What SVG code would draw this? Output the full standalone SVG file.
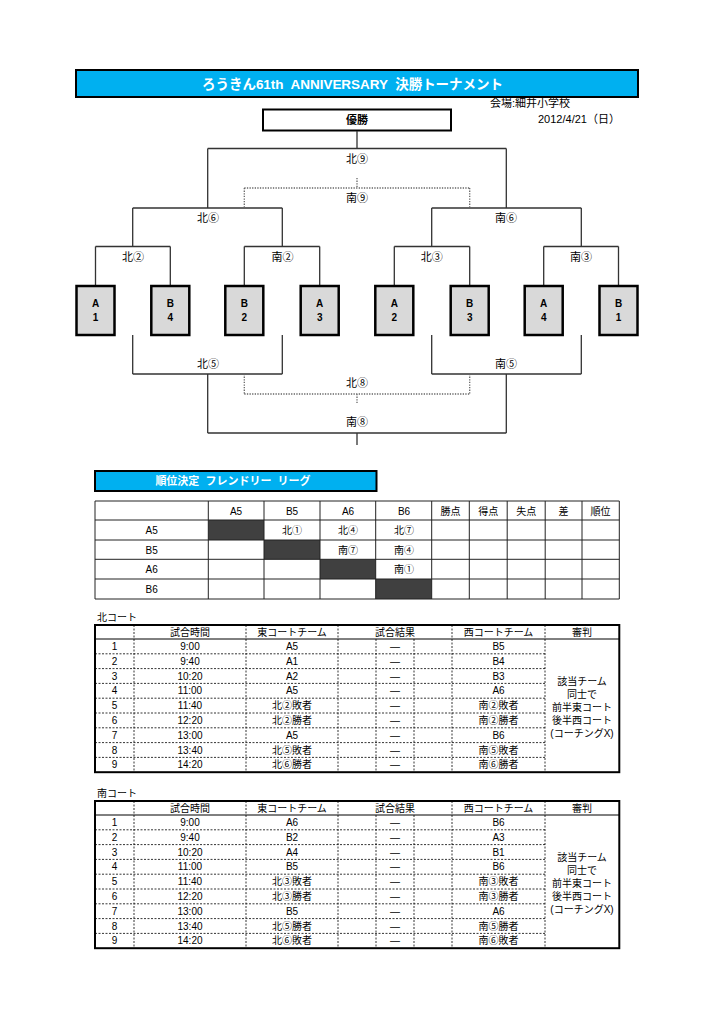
<svg xmlns="http://www.w3.org/2000/svg" width="724" height="1024" viewBox="0 0 724 1024">
<style>
text{font-family:"Liberation Sans","Noto Sans CJK JP",sans-serif;fill:#000;}
text.c{font-family:"Noto Sans CJK JP",sans-serif;}
.t{font-size:11px;text-anchor:middle;}
.s{font-size:10px;text-anchor:middle;}
.b{font-weight:bold;}
.w{fill:#fff;font-weight:bold;}
.ln{stroke:#333;stroke-width:1.3;fill:none;}
.dt{stroke:#666;stroke-width:1.3;stroke-dasharray:1.3,1.3;fill:none;}
.box{fill:#d9d9d9;stroke:#000;stroke-width:2.5;}
.bar{fill:#00b0f0;stroke:#000;stroke-width:2;}
.g{stroke:#222;stroke-width:1;fill:none;}
.dk{fill:#404040;}
.ds{stroke:#000;stroke-width:0.8;stroke-dasharray:2,1.5;fill:none;}
.ol{stroke:#000;stroke-width:2;fill:none;}
</style>

<g id="title">
<rect class="bar" x="76" y="70" width="562" height="27"/>
<text class="w" x="202" y="88.5" font-size="13.5" textLength="301" lengthAdjust="spacing" xml:space="preserve">ろうきん61th  ANNIVERSARY  決勝トーナメント</text>
</g>
<g id="venue">
<text x="490" y="107" font-size="11">会場:細井小学校</text>
<text x="538" y="123" font-size="11">2012/4/21（日）</text>
</g>
<g id="winner">
<rect x="263" y="109.5" width="188" height="21" fill="#fff" stroke="#000" stroke-width="2"/>
<text class="t b" x="357" y="124">優勝</text>
</g>

<g id="connectors">
<path class="ln" d="M357 131V148.5M207.7 148.5H506.3M207.7 148.5V208M506.3 148.5V208"/>
<path class="ln" d="M132.7 208H282.3M431.7 208H581.3M132.7 208V246.5M282.3 208V246.5M431.7 208V246.5M581.3 208V246.5"/>
<path class="ln" d="M95.5 246.5H170.3M244.3 246.5H319.7M394.3 246.5H469.7M543.7 246.5H618.5"/>
<path class="ln" d="M95.5 246.5V286M170.3 246.5V286M244.3 246.5V286M319.7 246.5V286M394.3 246.5V286M469.7 246.5V286M543.7 246.5V286M618.5 246.5V286"/>
<path class="dt" d="M357 178V188M244.3 188H469.7M244.3 188V208M469.7 188V208"/>
<path class="ln" d="M132.7 335V374M282.3 335V374M431.7 335V374M581.3 335V374M132.7 374H282.3M431.7 374H581.3"/>
<path class="ln" d="M207.7 374V433M506.3 374V433M207.7 433H506.3M357 433V445"/>
<path class="dt" d="M244.3 374V394M469.7 374V394M244.3 394H469.7M357 394V404"/>
</g>

<g id="bracket-labels">
<text class="t c" x="357" y="163">北⑨</text>
<text class="t c" x="357" y="202">南⑨</text>
<text class="t c" x="208" y="222">北⑥</text>
<text class="t c" x="506" y="222">南⑥</text>
<text class="t c" x="133" y="260.5">北②</text>
<text class="t c" x="282.5" y="260.5">南②</text>
<text class="t c" x="431.7" y="260.5">北③</text>
<text class="t c" x="581" y="260.5">南③</text>
<text class="t c" x="208" y="368">北⑤</text>
<text class="t c" x="506" y="368">南⑤</text>
<text class="t c" x="357" y="387">北⑧</text>
<text class="t c" x="357" y="426">南⑧</text>
</g>

<g id="team-A1"><rect class="box" x="76.5" y="286" width="38" height="49"/><text class="s b" x="95.5" y="307">A</text><text class="s b" x="95.5" y="320.5">1</text></g>
<g id="team-B4"><rect class="box" x="151.3" y="286" width="38" height="49"/><text class="s b" x="170.3" y="307">B</text><text class="s b" x="170.3" y="320.5">4</text></g>
<g id="team-B2"><rect class="box" x="225.3" y="286" width="38" height="49"/><text class="s b" x="244.3" y="307">B</text><text class="s b" x="244.3" y="320.5">2</text></g>
<g id="team-A3"><rect class="box" x="300.7" y="286" width="38" height="49"/><text class="s b" x="319.7" y="307">A</text><text class="s b" x="319.7" y="320.5">3</text></g>
<g id="team-A2"><rect class="box" x="375.3" y="286" width="38" height="49"/><text class="s b" x="394.3" y="307">A</text><text class="s b" x="394.3" y="320.5">2</text></g>
<g id="team-B3"><rect class="box" x="450.7" y="286" width="38" height="49"/><text class="s b" x="469.7" y="307">B</text><text class="s b" x="469.7" y="320.5">3</text></g>
<g id="team-A4"><rect class="box" x="524.7" y="286" width="38" height="49"/><text class="s b" x="543.7" y="307">A</text><text class="s b" x="543.7" y="320.5">4</text></g>
<g id="team-B1"><rect class="box" x="599.5" y="286" width="38" height="49"/><text class="s b" x="618.5" y="307">B</text><text class="s b" x="618.5" y="320.5">1</text></g>

<g id="league-title">
<rect class="bar" x="95" y="471" width="281.5" height="20"/>
<text class="t w" x="233" y="485" xml:space="preserve">順位決定  フレンドリー  リーグ</text>
</g>

<g id="league-table">
<rect class="dk" x="208.3" y="520" width="55.7" height="20"/>
<rect class="dk" x="264" y="540" width="56" height="19.3"/>
<rect class="dk" x="320" y="559.3" width="55.7" height="19.7"/>
<rect class="dk" x="375.7" y="579" width="56" height="20"/>
<path class="g" d="M95 501H619.3V599H95ZM95 520H619.3M95 540H619.3M95 559.3H619.3M95 579H619.3M208.3 501V599M264 501V599M320 501V599M375.7 501V599M431.7 501V599M469.3 501V599M507.2 501V599M545.2 501V599M582 501V599"/>
<text class="s" x="236" y="514.5">A5</text>
<text class="s" x="292" y="514.5">B5</text>
<text class="s" x="348" y="514.5">A6</text>
<text class="s" x="404" y="514.5">B6</text>
<text class="s" x="450.5" y="514.5">勝点</text>
<text class="s" x="488.3" y="514.5">得点</text>
<text class="s" x="526.2" y="514.5">失点</text>
<text class="s" x="563.6" y="514.5">差</text>
<text class="s" x="600.6" y="514.5">順位</text>
<text class="s" x="151.6" y="534">A5</text>
<text class="s" x="151.6" y="553.5">B5</text>
<text class="s" x="151.6" y="573">A6</text>
<text class="s" x="151.6" y="592.8">B6</text>
<text class="s c" x="292" y="534">北①</text>
<text class="s c" x="348" y="534">北④</text>
<text class="s c" x="404" y="534">北⑦</text>
<text class="s c" x="348" y="553.5">南⑦</text>
<text class="s c" x="404" y="553.5">南④</text>
<text class="s c" x="404" y="573">南①</text>
</g>

<g id="north-court">
<text x="97" y="621" font-size="10">北コート</text>
<path class="ds" d="M95 653.8H545M95 668.6H545M95 683.4H545M95 698.2H545M95 713H545M95 727.8H545M95 742.6H545M95 757.4H545"/>
<path class="ds" d="M134 625V772.2M246 625V772.2M338 625V772.2M452 625V772.2M545 625V772.2M376 639V772.2M414 639V772.2"/>
<path d="M95 639H619.3" stroke="#000" stroke-width="1"/>
<rect class="ol" x="95" y="625" width="524.3" height="147.2"/>
<text class="s" x="190" y="635.6">試合時間</text>
<text class="s" x="292" y="635.6">東コートチーム</text>
<text class="s" x="395" y="635.6">試合結果</text>
<text class="s" x="498.5" y="635.6">西コートチーム</text>
<text class="s" x="582" y="635.6">審判</text>
<text class="s" x="114.5" y="650">1</text><text class="s" x="190" y="650">9:00</text><text class="s" x="292" y="650">A5</text><text class="s" x="395" y="650">—</text><text class="s" x="498.5" y="650">B5</text>
<text class="s" x="114.5" y="664.8">2</text><text class="s" x="190" y="664.8">9:40</text><text class="s" x="292" y="664.8">A1</text><text class="s" x="395" y="664.8">—</text><text class="s" x="498.5" y="664.8">B4</text>
<text class="s" x="114.5" y="679.6">3</text><text class="s" x="190" y="679.6">10:20</text><text class="s" x="292" y="679.6">A2</text><text class="s" x="395" y="679.6">—</text><text class="s" x="498.5" y="679.6">B3</text>
<text class="s" x="114.5" y="694.4">4</text><text class="s" x="190" y="694.4">11:00</text><text class="s" x="292" y="694.4">A5</text><text class="s" x="395" y="694.4">—</text><text class="s" x="498.5" y="694.4">A6</text>
<text class="s" x="114.5" y="709.2">5</text><text class="s" x="190" y="709.2">11:40</text><text class="s c" x="292" y="709.2">北②敗者</text><text class="s" x="395" y="709.2">—</text><text class="s c" x="498.5" y="709.2">南②敗者</text>
<text class="s" x="114.5" y="724">6</text><text class="s" x="190" y="724">12:20</text><text class="s c" x="292" y="724">北②勝者</text><text class="s" x="395" y="724">—</text><text class="s c" x="498.5" y="724">南②勝者</text>
<text class="s" x="114.5" y="738.8">7</text><text class="s" x="190" y="738.8">13:00</text><text class="s" x="292" y="738.8">A5</text><text class="s" x="395" y="738.8">—</text><text class="s" x="498.5" y="738.8">B6</text>
<text class="s" x="114.5" y="753.6">8</text><text class="s" x="190" y="753.6">13:40</text><text class="s c" x="292" y="753.6">北⑤敗者</text><text class="s" x="395" y="753.6">—</text><text class="s c" x="498.5" y="753.6">南⑤敗者</text>
<text class="s" x="114.5" y="768.4">9</text><text class="s" x="190" y="768.4">14:20</text><text class="s c" x="292" y="768.4">北⑥勝者</text><text class="s" x="395" y="768.4">—</text><text class="s c" x="498.5" y="768.4">南⑥勝者</text>
<text class="s" x="582" y="684.6">該当チーム</text>
<text class="s" x="582" y="697.6">同士で</text>
<text class="s" x="582" y="710.6">前半東コート</text>
<text class="s" x="582" y="723.6">後半西コート</text>
<text class="s" x="582" y="736.6">(コーチングX)</text>
</g>

<g id="south-court">
<text x="97" y="797" font-size="10">南コート</text>
<path class="ds" d="M95 829.8H545M95 844.6H545M95 859.4H545M95 874.2H545M95 889H545M95 903.8H545M95 918.6H545M95 933.4H545"/>
<path class="ds" d="M134 801V948.2M246 801V948.2M338 801V948.2M452 801V948.2M545 801V948.2M376 815V948.2M414 815V948.2"/>
<path d="M95 815H619.3" stroke="#000" stroke-width="1"/>
<rect class="ol" x="95" y="801" width="524.3" height="147.2"/>
<text class="s" x="190" y="811.6">試合時間</text>
<text class="s" x="292" y="811.6">東コートチーム</text>
<text class="s" x="395" y="811.6">試合結果</text>
<text class="s" x="498.5" y="811.6">西コートチーム</text>
<text class="s" x="582" y="811.6">審判</text>
<text class="s" x="114.5" y="826">1</text><text class="s" x="190" y="826">9:00</text><text class="s" x="292" y="826">A6</text><text class="s" x="395" y="826">—</text><text class="s" x="498.5" y="826">B6</text>
<text class="s" x="114.5" y="840.8">2</text><text class="s" x="190" y="840.8">9:40</text><text class="s" x="292" y="840.8">B2</text><text class="s" x="395" y="840.8">—</text><text class="s" x="498.5" y="840.8">A3</text>
<text class="s" x="114.5" y="855.6">3</text><text class="s" x="190" y="855.6">10:20</text><text class="s" x="292" y="855.6">A4</text><text class="s" x="395" y="855.6">—</text><text class="s" x="498.5" y="855.6">B1</text>
<text class="s" x="114.5" y="870.4">4</text><text class="s" x="190" y="870.4">11:00</text><text class="s" x="292" y="870.4">B5</text><text class="s" x="395" y="870.4">—</text><text class="s" x="498.5" y="870.4">B6</text>
<text class="s" x="114.5" y="885.2">5</text><text class="s" x="190" y="885.2">11:40</text><text class="s c" x="292" y="885.2">北③敗者</text><text class="s" x="395" y="885.2">—</text><text class="s c" x="498.5" y="885.2">南③敗者</text>
<text class="s" x="114.5" y="900">6</text><text class="s" x="190" y="900">12:20</text><text class="s c" x="292" y="900">北③勝者</text><text class="s" x="395" y="900">—</text><text class="s c" x="498.5" y="900">南③勝者</text>
<text class="s" x="114.5" y="914.8">7</text><text class="s" x="190" y="914.8">13:00</text><text class="s" x="292" y="914.8">B5</text><text class="s" x="395" y="914.8">—</text><text class="s" x="498.5" y="914.8">A6</text>
<text class="s" x="114.5" y="929.6">8</text><text class="s" x="190" y="929.6">13:40</text><text class="s c" x="292" y="929.6">北⑤勝者</text><text class="s" x="395" y="929.6">—</text><text class="s c" x="498.5" y="929.6">南⑤勝者</text>
<text class="s" x="114.5" y="944.4">9</text><text class="s" x="190" y="944.4">14:20</text><text class="s c" x="292" y="944.4">北⑥敗者</text><text class="s" x="395" y="944.4">—</text><text class="s c" x="498.5" y="944.4">南⑥敗者</text>
<text class="s" x="582" y="860.6">該当チーム</text>
<text class="s" x="582" y="873.6">同士で</text>
<text class="s" x="582" y="886.6">前半東コート</text>
<text class="s" x="582" y="899.6">後半西コート</text>
<text class="s" x="582" y="912.6">(コーチングX)</text>
</g>
</svg>
